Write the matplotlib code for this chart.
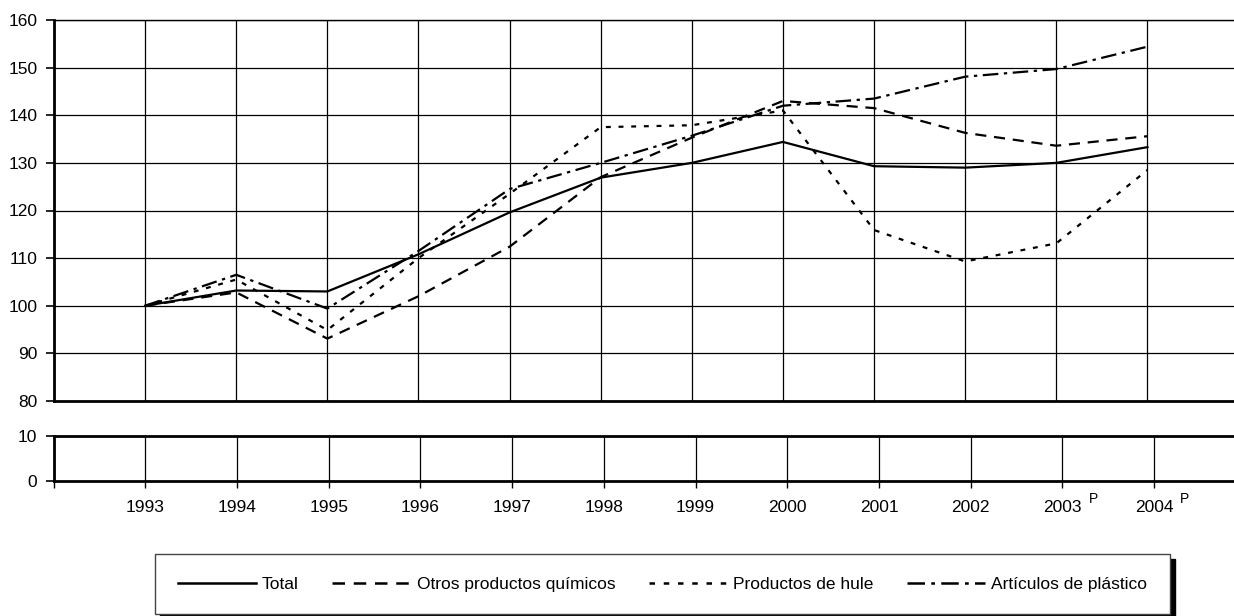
import matplotlib
matplotlib.use('Agg')
import matplotlib.pyplot as plt
from matplotlib.lines import Line2D

plt.rcParams['font.family'] = ['Liberation Sans', 'DejaVu Sans']
plt.rcParams['font.size'] = 12.5

years = [1993, 1994, 1995, 1996, 1997, 1998, 1999, 2000, 2001, 2002, 2003, 2004]
year_labels = ['1993', '1994', '1995', '1996', '1997', '1998', '1999', '2000',
               '2001', '2002', '2003', '2004']
prelim_years = [2003, 2004]

total = [100, 103.2, 103.0, 110.8, 119.6, 126.9, 130.0, 134.4, 129.3, 129.0, 130.0, 133.3]
otros = [100, 102.8, 93.1, 102.0, 112.4, 127.0, 135.3, 143.0, 141.5, 136.3, 133.6, 135.6]
hule = [100, 105.5, 94.9, 110.0, 123.5, 137.5, 137.9, 141.0, 115.9, 109.3, 113.1, 128.5]
plastico = [100, 106.5, 99.4, 111.5, 124.5, 130.0, 135.7, 142.0, 143.5, 148.1, 149.7, 154.4]

names = ['Total', 'Otros productos químicos', 'Productos de hule', 'Artículos de plástico']
styles = ['-', (0, (5, 3.5)), (0, (2.2, 3.5)), (0, (7, 2.5, 1.5, 2.5))]

W, H = 1234, 616
fig = plt.figure(figsize=(W / 100, H / 100), dpi=100)

# upper panel (80-160)
ax = fig.add_axes([54 / W, 1 - 401 / H, (W - 54) / W, (401 - 20) / H])
# lower panel (0-10), slightly different x scale like the original
ax2 = fig.add_axes([53.5 / W, 1 - 481 / H, (W - 53.5) / W, (481 - 436) / H])

series = [total, otros, hule, plastico]
for s, name, ls, z in zip(series, names, styles, [5, 4, 3, 4]):
    ax.plot(years, s, color='black', lw=1.6, linestyle=ls, label=name, zorder=z)

ax.set_xlim(1992, 2004.95)
ax.set_ylim(80, 160)
ax.set_yticks(range(80, 161, 10))
ax.set_xticks(range(1992, 2005))
ax.tick_params(axis='x', length=0, labelbottom=False)
ax.tick_params(axis='y', direction='out', length=6, width=1.2, pad=6)
ax.grid(True, color='black', lw=0.9)
ax.spines['right'].set_visible(False)
ax.spines['left'].set_linewidth(2)
ax.spines['bottom'].set_linewidth(2)
ax.spines['top'].set_linewidth(1)

ax2.set_xlim(1992, 2004.87)
ax2.set_ylim(0, 10)
ax2.set_yticks([0, 10])
ax2.set_xticks(range(1992, 2005))
ax2.set_xticklabels([''] + year_labels)
ax2.tick_params(axis='x', direction='out', length=5, width=1, pad=8.5)
ax2.tick_params(axis='y', direction='out', length=6, width=1.2, pad=6)
ax2.grid(True, axis='x', color='black', lw=0.9)
ax2.spines['right'].set_visible(False)
for sp in ['left', 'bottom', 'top']:
    ax2.spines[sp].set_linewidth(2)

for y in prelim_years:
    ax2.annotate('P', xy=(y, 0), xycoords='data', xytext=(22, -13),
                 textcoords='offset points', fontsize=10, ha='center', va='center')

handles = [Line2D([], [], color='black', lw=1.8, linestyle=ls) for ls in styles]
leg = fig.legend(handles, names, loc='upper left', ncol=4, mode='expand',
                 bbox_to_anchor=(155 / W, 0, (1170 - 155) / W, 1 - 554 / H),
                 borderaxespad=0, borderpad=1.3, handlelength=4.5, handletextpad=0.35,
                 fancybox=False, frameon=True, fontsize=12.5,
                 shadow={'ox': 3.6, 'oy': -3.6, 'facecolor': 'black',
                         'edgecolor': 'black', 'alpha': 1})
leg.get_frame().set_edgecolor('#444444')
leg.get_frame().set_linewidth(1)

fig.savefig('out.png', dpi=100)
